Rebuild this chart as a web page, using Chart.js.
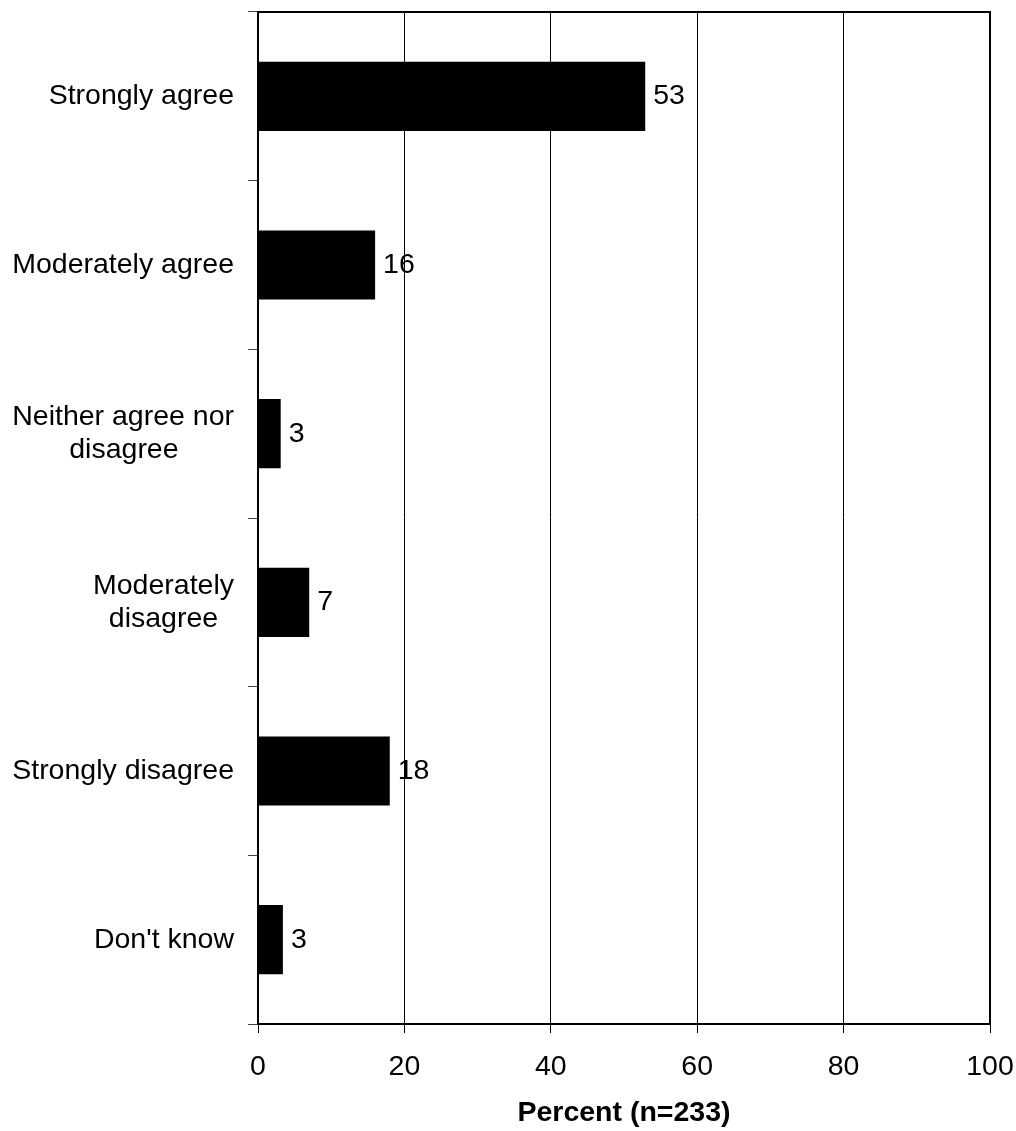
<!DOCTYPE html>
<html>
<head>
<meta charset="utf-8">
<script src="https://cdn.jsdelivr.net/npm/chart.js@4/dist/chart.umd.min.js"></script>
<style>
html,body{margin:0;padding:0;background:#fff;}
#wrap{width:1016px;height:1131px;position:relative;}
</style>
</head>
<body>
<div id="wrap"><canvas id="surveyChart"></canvas></div>
<script>
const categories = [
  ["Strongly agree"],
  ["Moderately agree"],
  ["Neither agree nor", "disagree"],
  ["Moderately", "disagree"],
  ["Strongly disagree"],
  ["Don't know"]
];
const percents = [52.9, 16.0, 3.1, 7.0, 18.0, 3.4];
const xTicks = [0, 20, 40, 60, 80, 100];
const xTitle = "Percent (n=233)";

const FONT = "'Liberation Sans', Arial, sans-serif";
const SIZE = 28.5;

// pad shorter lines with spaces so a multi-line label looks centred on itself
const measureCtx = document.createElement("canvas").getContext("2d");
measureCtx.font = SIZE + "px " + FONT;
function centreLines(lines){
  if(lines.length < 2) return lines[0];
  const widths = lines.map(l => measureCtx.measureText(l).width);
  const maxW = Math.max(...widths);
  const sp = measureCtx.measureText(" ").width;
  return lines.map((l,i) => l + " ".repeat(Math.round((maxW - widths[i]) / 2 / sp)));
}
const yLabels = categories.map(centreLines);

const frame = {
  id:"frame",
  afterDatasetsDraw(chart){
    const a = chart.chartArea, c = chart.ctx;
    c.save();
    c.strokeStyle = "#000";
    c.lineWidth = 2;
    c.strokeRect(a.left, a.top, a.right - a.left, a.bottom - a.top);
    c.restore();
  }
};

const valueLabels = {
  id:"valueLabels",
  afterDraw(chart){
    const c = chart.ctx;
    const meta = chart.getDatasetMeta(0);
    c.save();
    c.font = SIZE + "px " + FONT;
    c.fillStyle = "#000";
    c.textAlign = "left";
    c.textBaseline = "middle";
    meta.data.forEach((bar, i) => {
      c.fillText(String(Math.round(percents[i])), bar.x + 8, bar.y);
    });
    c.restore();
  }
};

new Chart(
document.getElementById("surveyChart"),
{
type:"bar",
data:{
  labels:yLabels,
  datasets:[
    {
      data:percents,
      backgroundColor:"#000",
      borderWidth:0,
      barPercentage:0.41,
      categoryPercentage:1
    }
  ]
},
options:{
  indexAxis:"y",
  responsive:true,
  maintainAspectRatio:false,
  animation:false,
  layout:{padding:{top:12,right:26,left:0,bottom:0}},
  plugins:{legend:{display:false},tooltip:{enabled:false}},
  scales:{
    x:{
      min:0,
      max:100,
      afterBuildTicks(scale){ scale.ticks = xTicks.map(v => ({value:v})); },
      afterFit(scale){
        scale.height = 107;
        scale.paddingLeft = 0;
        scale.paddingRight = 0;
      },
      grid:{color:"#000",lineWidth:1,tickLength:9,drawOnChartArea:true},
      border:{color:"#000",width:2},
      ticks:{color:"#000",font:{family:FONT,size:SIZE},padding:17,maxRotation:0},
      title:{display:true,text:xTitle,color:"#000",font:{family:FONT,size:SIZE,weight:"bold"},padding:{top:0,bottom:1}}
    },
    y:{
      afterFit(scale){
        scale.width = 258;
        scale.paddingTop = 0;
        scale.paddingBottom = 0;
      },
      grid:{offset:true,drawOnChartArea:false,color:"#444",lineWidth:1,tickLength:10},
      border:{color:"#000",width:2},
      ticks:{color:"#000",font:{family:FONT,size:SIZE,lineHeight:1.17},padding:14,autoSkip:false}
    }
  }
},
plugins:[frame,valueLabels]
}
);
</script>
</body>
</html>
